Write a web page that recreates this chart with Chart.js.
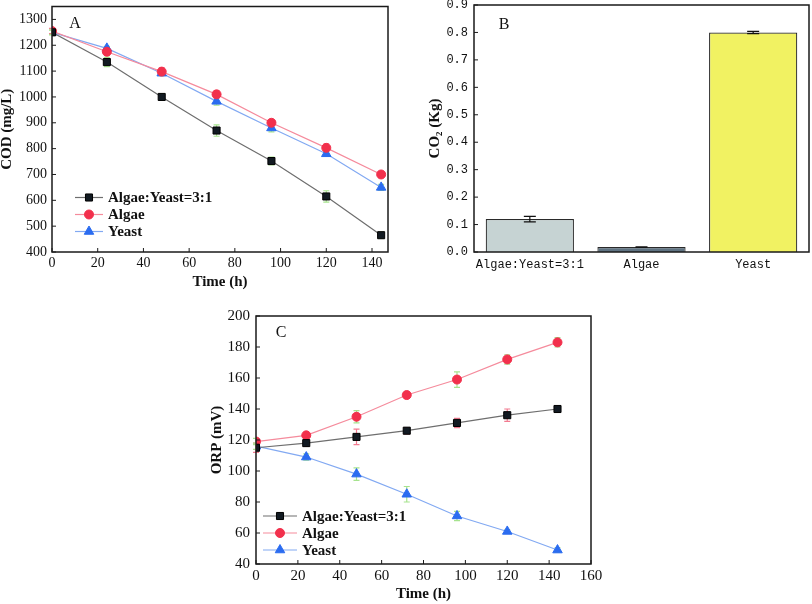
<!DOCTYPE html>
<html>
<head>
<meta charset="utf-8">
<script src="https://cdn.jsdelivr.net/npm/chart.js@4.4.1/dist/chart.umd.min.js"></script>
<style>
  body { margin: 0; background: #fff; width: 812px; height: 604px; position: relative; overflow: hidden; }
  canvas { position: absolute; }
</style>
</head>
<body>
<canvas id="chartA" width="400" height="290" style="left:0;top:0"></canvas>
<canvas id="chartB" width="412" height="290" style="left:400px;top:0"></canvas>
<canvas id="chartC" width="430" height="314" style="left:190px;top:290px"></canvas>
<script>
// sampling times (h)
const hours = [0, 24, 48, 72, 96, 120, 144];

// A: COD (mg/L)
const codMix = [1250, 1135, 1000, 870, 752, 615, 465];
const codAlgae = [1255, 1175, 1098, 1010, 900, 803, 700];
const codYeast = [1250, 1188, 1092, 983, 880, 780, 650];
const codMixErr = [8, 18, 12, 22, 15, 22, 12];
const codAlgaeErr = [10, 12, 15, 15, 12, 15, 10];
const codYeastErr = [10, 8, 10, 15, 15, 8, 12];

// B: CO2 (Kg)
const co2Groups = ["Algae:Yeast=3:1", "Algae", "Yeast"];
const co2Values = [0.12, 0.018, 0.80];
const co2Err = [0.01, 0.001, 0.004];

// C: ORP (mV)
const orpMix = [115, 118, 122, 126, 131, 136, 140];
const orpAlgae = [119, 123, 135, 149, 159, 172, 183];
const orpYeast = [116, 109, 98, 85, 71, 61, 49];
const orpMixErr = [3, 2, 5, 2, 3, 4, 1.5];
const orpAlgaeErr = [2, 2, 4, 2, 5, 3, 3];
const orpYeastErr = [2, 2, 4, 5, 3, 1, 1.5];

// tick values
const timeTicksA = [0, 20, 40, 60, 80, 100, 120, 140];
const timeTicksC = [0, 20, 40, 60, 80, 100, 120, 140, 160];
const codTicks = [400, 500, 600, 700, 800, 900, 1000, 1100, 1200, 1300];
const co2Ticks = [0, 0.1, 0.2, 0.3, 0.4, 0.5, 0.6, 0.7, 0.8, 0.9];
const orpTicks = [40, 60, 80, 100, 120, 140, 160, 180, 200];

const SERIF = "'Liberation Serif', 'Times New Roman', serif";
const MONO = "'Liberation Mono', 'DejaVu Sans Mono', monospace";
const GREEN_ERR = "#a6e38e";
const PINK_ERR = "#f27b90";

const mixStyle = {
  label: "Algae:Yeast=3:1", borderColor: "#6e6e6e", backgroundColor: "#121a22",
  pointBorderColor: "#000", pointStyle: "rect", pointRadius: 5, borderWidth: 1.2, pointBorderWidth: 1
};
const algaeStyle = {
  label: "Algae", borderColor: "#f58b9c", backgroundColor: "#f2304c",
  pointBorderColor: "#f2304c", pointStyle: "circle", pointRadius: 4.5, borderWidth: 1.2, pointBorderWidth: 1
};
const yeastStyle = {
  label: "Yeast", borderColor: "#82a9f2", backgroundColor: "#2b6cf0",
  pointBorderColor: "#2b6cf0", pointStyle: "triangle", pointRadius: 5.5, borderWidth: 1.2, pointBorderWidth: 1
};

function series(style, values, errors, errColor) {
  return Object.assign({}, style, {
    data: hours.map((h, i) => ({ x: h, y: values[i] })),
    errors: errors, errorColor: errColor, errorCap: 3
  });
}

// error bars from the dataset's own scale
const errorBars = {
  id: "errorBars",
  draw(chart, onTop) {
    const ctx = chart.ctx;
    chart.data.datasets.forEach((ds, i) => {
      if (!ds.errors) return;
      const meta = chart.getDatasetMeta(i);
      if ((meta.type === "bar") !== onTop) return;
      const ys = chart.scales[meta.yAxisID];
      ctx.save();
      ctx.strokeStyle = ds.errorColor;
      ctx.lineWidth = 1.2;
      meta.data.forEach((el, j) => {
        const d = ds.data[j];
        const v = typeof d === "object" ? d.y : d;
        const y1 = ys.getPixelForValue(v + ds.errors[j]);
        const y2 = ys.getPixelForValue(v - ds.errors[j]);
        const c = ds.errorCap;
        ctx.beginPath();
        ctx.moveTo(el.x, y1); ctx.lineTo(el.x, y2);
        ctx.moveTo(el.x - c, y1); ctx.lineTo(el.x + c, y1);
        ctx.moveTo(el.x - c, y2); ctx.lineTo(el.x + c, y2);
        ctx.stroke();
      });
      ctx.restore();
    });
  },
  beforeDatasetsDraw(chart) { this.draw(chart, false); },
  afterDatasetsDraw(chart) { this.draw(chart, true); }
};

// box around the plot, inward tick marks, panel letter
const frame = {
  id: "frame",
  afterDraw(chart, args, o) {
    const { ctx, chartArea: a } = chart;
    ctx.save();
    ctx.strokeStyle = "#1a1a1a";
    ctx.lineWidth = 1;
    ctx.beginPath();
    (o.ticks || []).forEach(id => {
      const s = chart.scales[id];
      s.ticks.forEach(t => {
        const p = s.getPixelForValue(t.value);
        if (s.isHorizontal()) { ctx.moveTo(p, a.bottom); ctx.lineTo(p, a.bottom - 4); }
        else { ctx.moveTo(a.left, p); ctx.lineTo(a.left + 4, p); }
      });
    });
    ctx.stroke();
    ctx.lineWidth = 1.5;
    ctx.strokeRect(a.left, a.top, a.right - a.left, a.bottom - a.top);
    ctx.fillStyle = "#111";
    ctx.font = "16px " + SERIF;
    ctx.textAlign = "center";
    ctx.textBaseline = "middle";
    ctx.fillText(o.tag, a.left + o.tagX, a.top + o.tagY);
    ctx.restore();
  }
};

// legend drawn inside the plot area
const insideLegend = {
  id: "insideLegend",
  afterDraw(chart, args, o) {
    if (!o.show) return;
    const { ctx, chartArea: a } = chart;
    ctx.save();
    chart.data.datasets.forEach((ds, i) => {
      const x = a.left + o.x;
      const y = a.top + o.y + i * o.gap;
      ctx.strokeStyle = ds.borderColor;
      ctx.lineWidth = ds.borderWidth;
      ctx.beginPath(); ctx.moveTo(x, y); ctx.lineTo(x + o.len, y); ctx.stroke();
      ctx.fillStyle = ds.backgroundColor;
      ctx.strokeStyle = ds.pointBorderColor;
      ctx.lineWidth = 1;
      Chart.helpers.drawPoint(ctx, { pointStyle: ds.pointStyle, radius: ds.pointRadius, rotation: 0, borderWidth: 1 }, x + o.len / 2, y);
      ctx.fillStyle = "#111";
      ctx.font = "bold 15px " + SERIF;
      ctx.textAlign = "left";
      ctx.textBaseline = "middle";
      ctx.fillText(ds.label, x + o.len + 5, y + 1);
    });
    ctx.restore();
  }
};

Chart.register(errorBars, frame, insideLegend);

function fixedTicks(list) {
  return s => { s.ticks = list.map(v => ({ value: v })); };
}
// force the axis box size and drop the extra label overflow padding
function fitY(w) {
  return s => { s.width = w; s.paddingTop = 0; s.paddingBottom = 0; };
}
function fitX(h) {
  return s => { s.height = h; s.paddingLeft = 0; s.paddingRight = 0; };
}

const plain = v => String(v);

// Panel A
new Chart(document.getElementById("chartA"), {
  type: "line",
  data: {
    datasets: [
      series(mixStyle, codMix, codMixErr, GREEN_ERR),
      series(algaeStyle, codAlgae, codAlgaeErr, PINK_ERR),
      series(yeastStyle, codYeast, codYeastErr, GREEN_ERR)
    ]
  },
  options: {
    responsive: false,
    animation: false,
    layout: { padding: { top: 5, right: 12, left: 0, bottom: 0 } },
    plugins: {
      legend: { display: false },
      tooltip: { enabled: false },
      frame: { ticks: ["x", "y"], tag: "A", tagX: 23, tagY: 17 },
      insideLegend: { show: true, x: 23, y: 191, gap: 17, len: 28 }
    },
    scales: {
      x: {
        type: "linear", min: 0, max: 147,
        afterBuildTicks: fixedTicks(timeTicksA),
        afterFit: fitX(38),
        grid: { display: false, drawTicks: false }, border: { display: false },
        ticks: { color: "#111", padding: 3, maxRotation: 0, callback: plain, font: { family: SERIF, size: 14 } },
        title: { display: true, text: "Time (h)", color: "#111", padding: 0, font: { family: SERIF, size: 15, weight: "bold", lineHeight: 1 } }
      },
      y: {
        min: 400, max: 1350,
        afterBuildTicks: fixedTicks(codTicks),
        afterFit: fitY(52),
        grid: { display: false, drawTicks: false }, border: { display: false },
        ticks: { color: "#111", padding: 5, callback: plain, font: { family: SERIF, size: 14 } },
        title: { display: true, text: "COD (mg/L)", color: "#111", padding: 0, font: { family: SERIF, size: 15, weight: "bold", lineHeight: 1 } }
      }
    }
  }
});

// Panel B
new Chart(document.getElementById("chartB"), {
  type: "bar",
  data: {
    labels: co2Groups,
    datasets: [{
      label: "CO2",
      data: co2Values,
      backgroundColor: ["#c6d3d3", "#5f7382", "#f1f262"],
      borderColor: "#2a2a2a",
      borderWidth: 1.2,
      barPercentage: 0.79,
      categoryPercentage: 1,
      errors: co2Err, errorColor: "#111", errorCap: 6
    }]
  },
  options: {
    responsive: false,
    animation: false,
    layout: { padding: { top: 5, right: 3, left: 0, bottom: 0 } },
    plugins: {
      legend: { display: false },
      tooltip: { enabled: false },
      frame: { ticks: ["y"], tag: "B", tagX: 30, tagY: 20 },
      insideLegend: { show: false }
    },
    scales: {
      x: {
        afterFit: fitX(38),
        grid: { display: false, drawTicks: false }, border: { display: false },
        ticks: { color: "#111", padding: 6, maxRotation: 0, minRotation: 0, autoSkip: false, font: { family: MONO, size: 12 } }
      },
      y: {
        min: 0, max: 0.9,
        afterBuildTicks: fixedTicks(co2Ticks),
        afterFit: fitY(74),
        grid: { display: false, drawTicks: false }, border: { display: false },
        ticks: { color: "#111", padding: 6, font: { family: MONO, size: 12 }, callback: v => v.toFixed(1) },
        title: { display: true, text: "CO\u2082 (Kg)", color: "#111", padding: { top: 28, bottom: 28 }, font: { family: SERIF, size: 15, weight: "bold", lineHeight: 1 } }
      }
    }
  }
});

// Panel C
new Chart(document.getElementById("chartC"), {
  type: "line",
  data: {
    datasets: [
      series(mixStyle, orpMix, orpMixErr, PINK_ERR),
      series(algaeStyle, orpAlgae, orpAlgaeErr, GREEN_ERR),
      series(yeastStyle, orpYeast, orpYeastErr, GREEN_ERR)
    ]
  },
  options: {
    responsive: false,
    animation: false,
    layout: { padding: { top: 26, right: 29, left: 0, bottom: 0 } },
    plugins: {
      legend: { display: false },
      tooltip: { enabled: false },
      frame: { ticks: ["x", "y"], tag: "C", tagX: 25, tagY: 17 },
      insideLegend: { show: true, x: 7, y: 200, gap: 17, len: 34 }
    },
    scales: {
      x: {
        type: "linear", min: 0, max: 160,
        afterBuildTicks: fixedTicks(timeTicksC),
        afterFit: fitX(40),
        grid: { display: false, drawTicks: false }, border: { display: false },
        ticks: { color: "#111", padding: 3, maxRotation: 0, callback: plain, font: { family: SERIF, size: 15 } },
        title: { display: true, text: "Time (h)", color: "#111", padding: 2, font: { family: SERIF, size: 15, weight: "bold", lineHeight: 1 } }
      },
      y: {
        min: 40, max: 200,
        afterBuildTicks: fixedTicks(orpTicks),
        afterFit: fitY(66),
        grid: { display: false, drawTicks: false }, border: { display: false },
        ticks: { color: "#111", padding: 6, callback: plain, font: { family: SERIF, size: 15 } },
        title: { display: true, text: "ORP (mV)", color: "#111", padding: { top: 20, bottom: 20 }, font: { family: SERIF, size: 15, weight: "bold", lineHeight: 1 } }
      }
    }
  }
});
</script>
</body>
</html>
